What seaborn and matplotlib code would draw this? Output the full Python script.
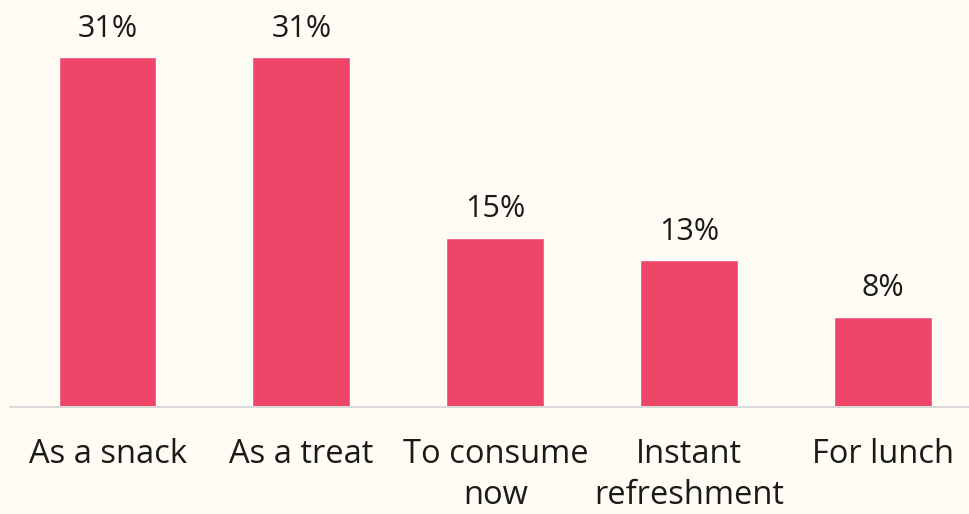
import matplotlib
matplotlib.use("Agg")
import matplotlib.pyplot as plt
import seaborn as sns
import pandas as pd

categories = ["As a snack", "As a treat", "To consume\nnow", "Instant\nrefreshment", "For lunch"]
values = [31, 31, 15, 13, 8]
value_labels = ["31%", "31%", "15%", "13%", "8%"]

bg = "#FFFCF4"
bar_color = "#EF4568"

sns.set_theme(style="white")
plt.rcParams["font.family"] = ["Open Sans", "DejaVu Sans"]

fig = plt.figure(figsize=(9.69, 5.14), dpi=100, facecolor=bg)
ax = fig.add_axes([10/969, 107/514, 959/969, 407/514])
ax.set_facecolor(bg)

df = pd.DataFrame({"cat": categories, "val": values})
sns.barplot(data=df, x="cat", y="val", color=bar_color, saturation=1, width=0.505, ax=ax)

ax.set_xlim(-0.503, 4.443)
ax.set_ylim(0, 36.1)
ax.bar_label(ax.containers[0], labels=value_labels, padding=10, fontsize=22, color="#1a1a1a")

for s in ["top", "right", "left"]:
    ax.spines[s].set_visible(False)
ax.spines["bottom"].set_color("#D9D9D9")
ax.spines["bottom"].set_linewidth(1.5)
ax.set_yticks([])
ax.set_xlabel("")
ax.set_ylabel("")
ax.tick_params(axis="x", length=0, pad=22, labelsize=23.5, labelcolor="#1a1a1a")
for t in ax.get_xticklabels():
    t.set_linespacing(1.35)
    t.set_verticalalignment("top")

fig.savefig("out.png", dpi=100, facecolor=bg)
